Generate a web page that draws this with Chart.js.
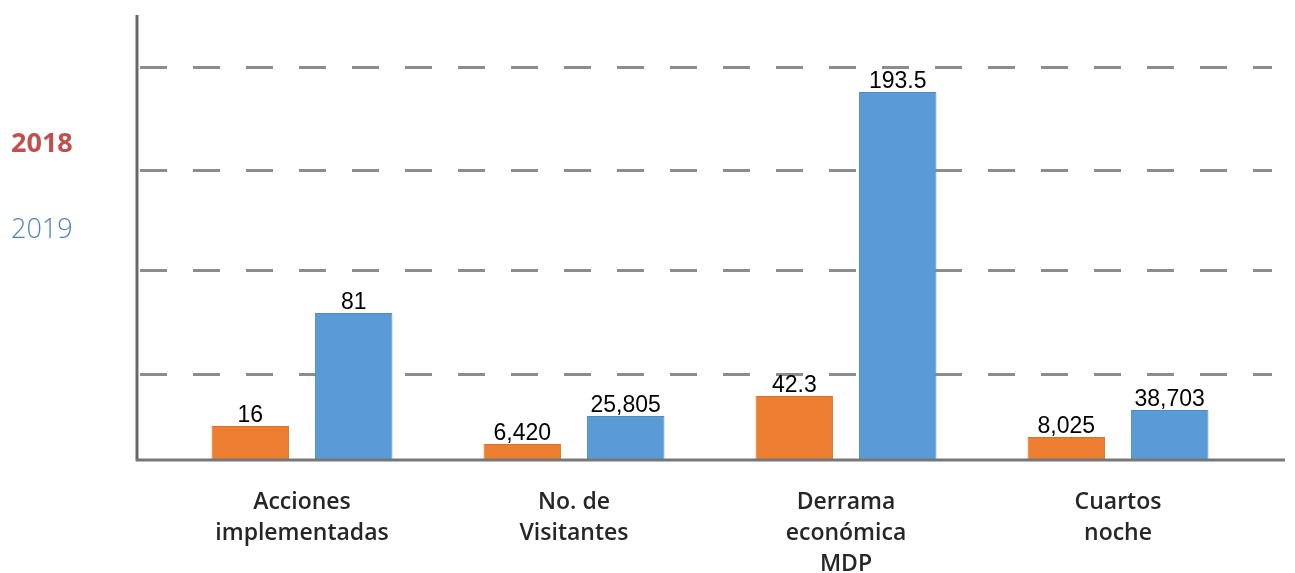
<!DOCTYPE html>
<html>
<head>
<meta charset="utf-8">
<script src="https://cdn.jsdelivr.net/npm/chart.js@4.4.1/dist/chart.umd.min.js"></script>
<style>
  html, body { margin: 0; padding: 0; background: #fff; }
  #wrap { width: 1295px; height: 573px; position: relative; }
</style>
</head>
<body>
<div id="wrap"><canvas id="chart"></canvas></div>
<script>
// ==========================================
// Data
// ==========================================
const categories = [
  ["Acciones", "implementadas"],
  ["No. de", "Visitantes"],
  ["Derrama", "económica", "MDP"],
  ["Cuartos", "noche"]
];
const seriesNames = ["2018", "2019"];

// printed values above each bar
const labels2018 = ["16", "6,420", "42.3", "8,025"];
const labels2019 = ["81", "25,805", "193.5", "38,703"];

// bars are not drawn to a common scale in the original,
// so these are the drawn bar heights (chart units)
const heights2018 = [34, 16, 64, 23];
const heights2019 = [147, 44, 368, 50];

// dashed guide lines, same units
const gridValues = [86, 190, 290, 393];

const orange = "#ED7D31";
const blue = "#5B9BD5";

// ==========================================
// Custom drawing: axes, dashed grid, labels, legend
// ==========================================
const decorPlugin = {
  id: "decor",
  beforeDatasetsDraw(chart) {
    const ctx = chart.ctx;
    const y = chart.scales.y;
    ctx.save();
    // dashed guides
    ctx.strokeStyle = "#8c8c8c";
    ctx.lineWidth = 3;
    ctx.setLineDash([27, 26]);
    gridValues.forEach(v => {
      const py = Math.round(y.getPixelForValue(v)) + 0.5;
      ctx.beginPath();
      ctx.moveTo(140, py);
      ctx.lineTo(1272, py);
      ctx.stroke();
    });
    ctx.setLineDash([]);
    // y axis
    const base = y.getPixelForValue(0);
    ctx.strokeStyle = "#666";
    ctx.beginPath();
    ctx.moveTo(137, 15);
    ctx.lineTo(137, base + 1);
    ctx.stroke();
    ctx.restore();
  },
  afterDatasetsDraw(chart) {
    const ctx = chart.ctx;
    const x = chart.scales.x;
    const y = chart.scales.y;
    const base = y.getPixelForValue(0);
    ctx.save();
    // x axis line on top of the bar bottoms
    ctx.strokeStyle = "#777";
    ctx.lineWidth = 3;
    ctx.beginPath();
    ctx.moveTo(136, base);
    ctx.lineTo(1285, base);
    ctx.stroke();

    // value labels
    ctx.fillStyle = "#000";
    ctx.font = "23px 'Liberation Sans', Arial, sans-serif";
    ctx.textAlign = "center";
    ctx.textBaseline = "alphabetic";
    const printed = [labels2018, labels2019];
    chart.data.datasets.forEach((ds, di) => {
      chart.getDatasetMeta(di).data.forEach((bar, i) => {
        ctx.fillText(printed[di][i], bar.x, bar.y - 4);
      });
    });

    // category labels
    ctx.fillStyle = "#262626";
    ctx.font = "600 23px 'Open Sans', sans-serif";
    categories.forEach((lines, i) => {
      const cx = x.getPixelForValue(i);
      lines.forEach((t, li) => {
        ctx.fillText(t, cx, 509 + li * 31);
      });
    });

    // legend on the left
    ctx.textAlign = "left";
    ctx.font = "bold 27px 'Open Sans', sans-serif";
    ctx.fillStyle = "#C0504D";
    ctx.fillText(seriesNames[0], 11, 152);
    ctx.font = "300 27px 'Open Sans', sans-serif";
    ctx.fillStyle = "#4F81BD";
    ctx.fillText(seriesNames[1], 11, 238);
    ctx.restore();
  }
};

new Chart(document.getElementById("chart"), {
  type: "bar",
  data: {
    labels: categories,
    datasets: [
      {
        label: seriesNames[0],
        data: heights2018,
        backgroundColor: orange,
        borderColor: "#D8702A",
        borderWidth: 1
      },
      {
        label: seriesNames[1],
        data: heights2019,
        backgroundColor: blue,
        borderColor: "#4D8BC4",
        borderWidth: 1
      }
    ]
  },
  options: {
    responsive: true,
    maintainAspectRatio: false,
    animation: false,
    datasets: {
      bar: { categoryPercentage: 0.76, barPercentage: 0.75 }
    },
    layout: {
      padding: { left: 166, right: 41, top: 10, bottom: 113 }
    },
    scales: {
      x: { display: false },
      y: { display: false, min: 0, max: 450 }
    },
    plugins: {
      legend: { display: false },
      tooltip: { enabled: false }
    }
  },
  plugins: [decorPlugin]
});
</script>
</body>
</html>
